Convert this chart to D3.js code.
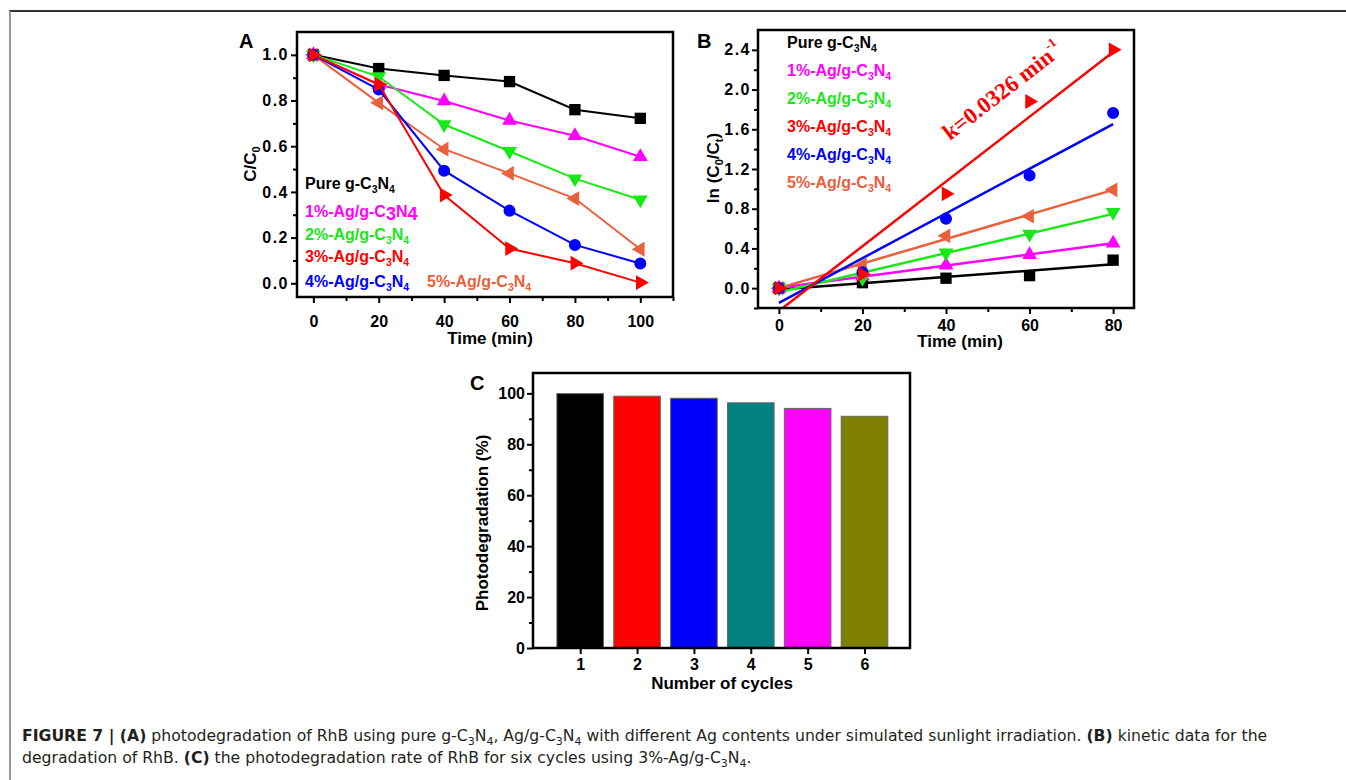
<!DOCTYPE html>
<html>
<head>
<meta charset="utf-8">
<script src="https://cdn.jsdelivr.net/npm/d3@7"></script>
<style>
  body { margin: 0; background: #fff; }
  svg { display: block; }
  text { font-family: "Liberation Sans", Arial, Helvetica, sans-serif; }
</style>
</head>
<body>
<svg id="fig" width="1346" height="780"></svg>
<script>
// ---------- Panel A: C/C0 versus irradiation time ----------
const timeA = [0, 20, 40, 60, 80, 100];
const ratioPure = [1.0, 0.94, 0.91, 0.883, 0.76, 0.722];
const ratio1 = [1.0, 0.87, 0.798, 0.713, 0.646, 0.554];
const ratio2 = [1.0, 0.905, 0.695, 0.578, 0.458, 0.366];
const ratio3 = [1.0, 0.871, 0.386, 0.152, 0.088, 0.003];
const ratio4 = [1.0, 0.848, 0.493, 0.318, 0.168, 0.087];
const ratio5 = [1.0, 0.79, 0.587, 0.481, 0.371, 0.149];
const ticksA_x = [0, 20, 40, 60, 80, 100];
const ticksA_y = [0.0, 0.2, 0.4, 0.6, 0.8, 1.0];

// ---------- Panel B: ln(C0/Ct) versus time ----------
const timeB = [0, 20, 40, 60, 80];
const lnPure = [0, 0.055, 0.10, 0.126, 0.282];
const ln1 = [0, 0.12, 0.232, 0.336, 0.452];
const ln2 = [0, 0.10, 0.355, 0.545, 0.765];
const ln3 = [0, 0.14, 0.95, 1.88, 2.40];
const ln4 = [0, 0.16, 0.70, 1.135, 1.765];
const ln5 = [0, 0.233, 0.527, 0.725, 0.99];
const rateK = 0.0326;               // rate constant of 3%-Ag/g-C3N4 (min^-1)
const ticksB_x = [0, 20, 40, 60, 80];
const ticksB_y = [0.0, 0.4, 0.8, 1.2, 1.6, 2.0, 2.4];

// ---------- Panel C: recycling runs ----------
const cycles = [1, 2, 3, 4, 5, 6];
const cycleRates = [99.9, 98.9, 98.1, 96.3, 94.1, 91.0];
const cycleColors = ["#000000", "#ff0000", "#0000ff", "#008080", "#ff00ff", "#808000"];
const ticksC_y = [0, 20, 40, 60, 80, 100];

// ---------- shared series descriptions ----------
const sampleNames = ["Pure g-C_{3}N_{4}", "1%-Ag/g-C_{3}N_{4}", "2%-Ag/g-C_{3}N_{4}",
                     "3%-Ag/g-C_{3}N_{4}", "4%-Ag/g-C_{3}N_{4}", "5%-Ag/g-C_{3}N_{4}"];
const sampleColors = ["#000000", "#ff00ff", "#18e818", "#ff0000", "#0000ff", "#e8603c"];
const sampleSymbols = ["square", "up", "down", "right", "circle", "left"];
const ratioSets = [ratioPure, ratio1, ratio2, ratio3, ratio4, ratio5];
const lnSets = [lnPure, ln1, ln2, ln3, ln4, ln5];

const svg = d3.select("#fig");

// Text with _{sub}, ^{sup} and **bold** runs
function rich(g, x, y, str, o) {
  const t = g.append("text")
    .attr("x", x).attr("y", y)
    .attr("font-size", o.size)
    .attr("font-weight", o.weight || "bold")
    .attr("fill", o.color || "#000")
    .attr("text-anchor", o.anchor || "start");
  if (o.family) t.style("font-family", o.family);
  if (o.transform) t.attr("transform", o.transform);
  const tokens = str.split(/(\*\*[^*]+\*\*|_\{[^}]*\}|\^\{[^}]*\})/).filter(s => s.length);
  let cur = 0;
  tokens.forEach(tok => {
    let txt = tok, off = 0, size = null, weight = null;
    if (tok.startsWith("_{")) { txt = tok.slice(2, -1); off = o.subDy; size = o.subSize; }
    else if (tok.startsWith("^{")) { txt = tok.slice(2, -1); off = -o.supDy; size = o.supSize; }
    else if (tok.startsWith("**")) { txt = tok.slice(2, -2); weight = "bold"; }
    const s = t.append("tspan").text(txt).attr("dy", off - cur);
    if (size) s.attr("font-size", size);
    if (weight) s.attr("font-weight", weight);
    cur = off;
  });
  return t;
}

function symbolPath(kind, size) {
  if (kind === "square") return { d: d3.symbol(d3.symbolSquare, size * 1.35)(), rot: 0 };
  if (kind === "circle") return { d: d3.symbol(d3.symbolCircle, size * 1.2)(), rot: 0 };
  const rot = { up: 0, down: 180, right: 90, left: -90 }[kind];
  return { d: d3.symbol(d3.symbolTriangle, size)(), rot };
}

function drawMarkers(g, xs, ys, x, y, kind, color, size) {
  const sp = symbolPath(kind, size);
  g.selectAll(null).data(xs.map((v, i) => [v, ys[i]])).enter()
    .append("path")
    .attr("d", sp.d)
    .attr("fill", color)
    .attr("transform", d => `translate(${x(d[0])},${y(d[1])}) rotate(${sp.rot})`);
}

function frameAndAxes(g, box, x, y, o) {
  const font = 16;
  const bx = g.append("g").attr("transform", `translate(0,${box.y1})`);
  bx.call(d3.axisBottom(x).tickValues(o.xMinor).tickSize(4).tickFormat(""));
  const bxM = g.append("g").attr("transform", `translate(0,${box.y1})`);
  bxM.call(d3.axisBottom(x).tickValues(o.xMajor).tickSize(6).tickPadding(o.xPad).tickFormat(o.xFmt));
  const ly = g.append("g").attr("transform", `translate(${box.x0},0)`);
  ly.call(d3.axisLeft(y).tickValues(o.yMinor).tickSize(4).tickFormat(""));
  const lyM = g.append("g").attr("transform", `translate(${box.x0},0)`);
  lyM.call(d3.axisLeft(y).tickValues(o.yMajor).tickSize(6).tickPadding(o.yPad).tickFormat(o.yFmt));
  [bx, bxM, ly, lyM].forEach(a => {
    a.select(".domain").remove();
    a.selectAll("line").attr("stroke", "#000").attr("stroke-width", 2);
    a.selectAll("text").attr("font-size", font).attr("font-weight", "bold")
      .attr("fill", "#000").style("font-family", '"Liberation Sans", Arial, sans-serif');
  });
  lyM.selectAll("text").attr("letter-spacing", o.yLs || 0);
  g.append("rect")
    .attr("x", box.x0).attr("y", box.y0)
    .attr("width", box.x1 - box.x0).attr("height", box.y1 - box.y0)
    .attr("fill", "none").attr("stroke", "#000").attr("stroke-width", 2.5);
}

// ---------- outer figure border ----------
svg.append("line").attr("x1", 9).attr("x2", 1346).attr("y1", 11).attr("y2", 11)
  .attr("stroke", "#333").attr("stroke-width", 2);
svg.append("line").attr("x1", 10).attr("x2", 10).attr("y1", 11).attr("y2", 780)
  .attr("stroke", "#999").attr("stroke-width", 2);

// ====================== Panel A ======================
{
  const box = { x0: 297, x1: 673, y0: 32, y1: 297 };
  const x = d3.scaleLinear().domain([-5, 110]).range([box.x0, box.x1]);
  const y = d3.scaleLinear().domain([-0.06, 1.1]).range([box.y1, box.y0]);
  const g = svg.append("g");

  const drawOrder = [0, 1, 2, 5, 4, 3];
  const line = d3.line().x(d => x(d[0])).y(d => y(d[1]));
  drawOrder.forEach(i => {
    const pts = timeA.map((t, j) => [t, ratioSets[i][j]]);
    g.append("path").attr("d", line(pts)).attr("fill", "none")
      .attr("stroke", sampleColors[i]).attr("stroke-width", 2);
    drawMarkers(g, timeA, ratioSets[i], x, y, sampleSymbols[i], sampleColors[i], 95);
  });

  frameAndAxes(g, box, x, y, {
    xMajor: ticksA_x, xMinor: [10, 30, 50, 70, 90, 110].filter(v => v <= 110),
    xPad: 13, xFmt: d3.format("d"),
    yMajor: ticksA_y, yMinor: [0.1, 0.3, 0.5, 0.7, 0.9],
    yPad: 2, yFmt: d3.format(".1f"), yLs: 1.5
  });

  // legend
  const legA = [[305, 189], [305, 217], [305, 240], [305, 262], [305, 287], [427, 287]];
  sampleNames.forEach((n, i) => {
    const big = i === 1;
    rich(g, legA[i][0], legA[i][1], n, {
      size: 16, color: sampleColors[i],
      subSize: big ? 18 : 10.5, subDy: big ? 3 : 4
    });
  });

  rich(g, 490, 344, "Time (min)", { size: 17, anchor: "middle" });
  rich(g, 0, 0, "C/C_{0}", { size: 17, anchor: "middle", subSize: 11, subDy: 4,
    transform: `translate(256,164) rotate(-90)` });
  rich(g, 239, 48, "A", { size: 20 });
}

// ====================== Panel B ======================
{
  const box = { x0: 758, x1: 1134, y0: 30, y1: 308 };
  const x = d3.scaleLinear().domain([-5, 85]).range([box.x0, box.x1]);
  const y = d3.scaleLinear().domain([-0.2, 2.6]).range([box.y1, box.y0]);
  const g = svg.append("g");
  g.append("clipPath").attr("id", "clipB").append("rect")
    .attr("x", box.x0).attr("y", box.y0)
    .attr("width", box.x1 - box.x0).attr("height", box.y1 - box.y0);

  // least-squares straight line through each kinetic series
  function fit(ys, slopeFixed) {
    const mx = d3.mean(timeB), my = d3.mean(ys);
    let sxy = 0, sxx = 0;
    timeB.forEach((t, i) => { sxy += (t - mx) * (ys[i] - my); sxx += (t - mx) * (t - mx); });
    const k = slopeFixed != null ? slopeFixed : sxy / sxx;
    return { k, b: my - k * mx };
  }

  const drawOrder = [0, 1, 2, 5, 4, 3];
  const lines = g.append("g").attr("clip-path", "url(#clipB)");
  drawOrder.forEach(i => {
    const f = fit(lnSets[i], i === 3 ? rateK : null);
    const t0 = timeB[0], t1 = timeB[timeB.length - 1];
    lines.append("line")
      .attr("x1", x(t0)).attr("y1", y(f.b + f.k * t0))
      .attr("x2", x(t1)).attr("y2", y(f.b + f.k * t1))
      .attr("stroke", sampleColors[i]).attr("stroke-width", 2.5);
  });
  drawOrder.forEach(i => {
    drawMarkers(g, timeB, lnSets[i], x, y, sampleSymbols[i], sampleColors[i], 95);
  });

  frameAndAxes(g, box, x, y, {
    xMajor: ticksB_x, xMinor: [10, 30, 50, 70],
    xPad: 6, xFmt: d3.format("d"),
    yMajor: ticksB_y, yMinor: [-0.2, 0.2, 0.6, 1.0, 1.4, 1.8, 2.2],
    yPad: 1, yFmt: d3.format(".1f"), yLs: 1.5
  });

  sampleNames.forEach((n, i) => {
    rich(g, 787, 48 + i * 28, n, { size: 16, color: sampleColors[i], subSize: 10.5, subDy: 4 });
  });

  // rate constant label, parallel to the 3% fit line
  const slopePx = rateK * (y(0) - y(1)) / (x(1) - x(0));
  const ang = Math.atan(slopePx) * 180 / Math.PI;
  rich(g, 0, 0, "k=0.0326 min^{-1}", {
    size: 23, color: "#ff0000", family: '"Liberation Serif", "Times New Roman", serif',
    supSize: 13, supDy: 11, transform: `translate(950,141) rotate(${-ang})`
  });

  rich(g, 960, 347, "Time (min)", { size: 17, anchor: "middle" });
  rich(g, 0, 0, "ln (C_{0}/C_{t})", { size: 17, anchor: "middle", subSize: 11, subDy: 4,
    transform: `translate(719,168) rotate(-90)` });
  rich(g, 697, 48, "B", { size: 20 });
}

// ====================== Panel C ======================
{
  const box = { x0: 533, x1: 910, y0: 373, y1: 648 };
  const x = d3.scaleLinear().domain([0.17, 6.8]).range([box.x0, box.x1]);
  const y = d3.scaleLinear().domain([0, 108]).range([box.y1, box.y0]);
  const g = svg.append("g");
  const barW = 0.82;

  g.selectAll(null).data(cycles).enter().append("rect")
    .attr("x", c => x(c - barW / 2))
    .attr("width", x(barW) - x(0))
    .attr("y", (c, i) => y(cycleRates[i]))
    .attr("height", (c, i) => y(0) - y(cycleRates[i]))
    .attr("fill", (c, i) => cycleColors[i])
    .attr("stroke", "#666").attr("stroke-width", 1);

  frameAndAxes(g, box, x, y, {
    xMajor: cycles, xMinor: [],
    xPad: 5, xFmt: d3.format("d"),
    yMajor: ticksC_y, yMinor: [10, 30, 50, 70, 90],
    yPad: 2, yFmt: d3.format("d"), yLs: 0
  });

  rich(g, 722, 689, "Number of cycles", { size: 17, anchor: "middle" });
  rich(g, 0, 0, "Photodegradation (%)", { size: 17, anchor: "middle",
    transform: `translate(488,523) rotate(-90)` });
  rich(g, 470, 390, "C", { size: 20 });
}

// ====================== Caption ======================
{
  const g = svg.append("g");
  const opts = { size: 15, weight: "normal", color: "#231f20",
    family: '"Liberation Sans Narrow", "DejaVu Sans Condensed", "Liberation Sans", sans-serif',
    subSize: 10.5, subDy: 4 };
  const l1 = rich(g, 0, 0,
    "**FIGURE 7 | (A)** photodegradation of RhB using pure g-C_{3}N_{4}, Ag/g-C_{3}N_{4} with different Ag contents under simulated sunlight irradiation. **(B)** kinetic data for the",
    opts);
  const l2 = rich(g, 0, 0,
    "degradation of RhB. **(C)** the photodegradation rate of RhB for six cycles using 3%-Ag/g-C_{3}N_{4}.",
    opts);
  const sx = 1246 / l1.node().getComputedTextLength();
  l1.attr("transform", `translate(22,741) scale(${sx},1)`);
  l2.attr("transform", `translate(22,763) scale(${sx},1)`);
}
</script>
</body>
</html>
